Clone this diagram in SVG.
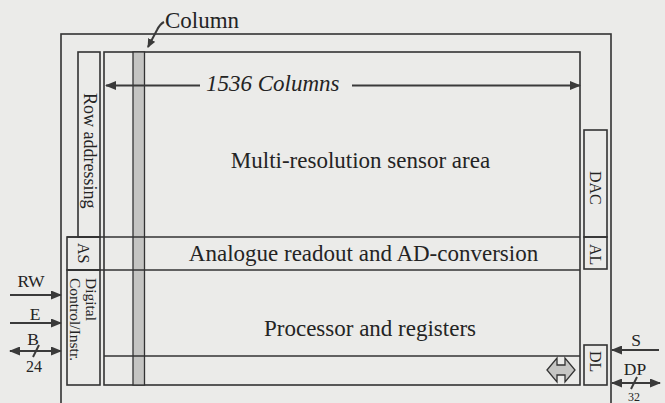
<svg xmlns="http://www.w3.org/2000/svg" width="665" height="403" viewBox="0 0 665 403">
<defs>
<style>
.ln{fill:none;stroke:#333;stroke-width:1.6}
.bx{fill:none;stroke:#333;stroke-width:1.6}
.t{font-family:"Liberation Serif","Times New Roman",serif;fill:#242424}
.big{font-size:23px}
.lab{font-size:17.5px}
.sm{font-size:16px}
.ar{fill:none;stroke:#3a3a3a;stroke-width:2}
</style>
<marker id="ah" markerWidth="11" markerHeight="9" refX="10" refY="4.5" orient="auto-start-reverse" markerUnits="userSpaceOnUse">
<path d="M0,0 L11,4.5 L0,9 z" fill="#3a3a3a"/>
</marker>
<marker id="ahs" markerWidth="9" markerHeight="8" refX="8" refY="4" orient="auto" markerUnits="userSpaceOnUse">
<path d="M0,0 L9,4 L0,8 z" fill="#3a3a3a"/>
</marker>
</defs>
<rect x="0" y="0" width="665" height="403" fill="#ebebe9"/>

<g id="outer-box"><rect class="bx" x="61" y="34" width="550" height="390"/></g>

<g id="sensor-area">
<rect class="bx" x="104" y="52" width="476" height="333"/>
<text class="t big" x="360.5" y="168" text-anchor="middle">Multi-resolution sensor area</text>
</g>

<g id="column-strip">
<rect x="133" y="52" width="11.5" height="333" fill="#c4c4c2" stroke="#333" stroke-width="1.3"/>
</g>

<g id="ad-conversion">
<line class="ln" x1="67" y1="237" x2="580" y2="237"/>
<line class="ln" x1="67" y1="270" x2="580" y2="270"/>
<text class="t big" x="363.5" y="261" text-anchor="middle">Analogue readout and AD-conversion</text>
</g>

<g id="processor">
<text class="t big" x="370" y="336" text-anchor="middle">Processor and registers</text>
<line class="ln" x1="104" y1="356" x2="580" y2="356"/>
<path d="M547,370 L557,358 L557,365 L565,365 L565,358 L575,370 L565,382 L565,375 L557,375 L557,382 Z" fill="#c6c6c4" stroke="#333" stroke-width="1.3"/>
</g>

<g id="row-addressing">
<rect class="bx" x="78" y="52" width="22" height="185"/>
<text class="t" font-size="18" transform="translate(83.5,93) rotate(90)">Row addressing</text>
</g>

<g id="as">
<rect class="bx" x="67" y="237" width="33" height="33"/>
<text class="t sm" transform="translate(78,243) rotate(90)">AS</text>
</g>

<g id="digital-control">
<rect class="bx" x="67" y="270" width="33" height="115"/>
<text class="t" font-size="15.5" transform="translate(85.5,278) rotate(90)">Digital</text>
<text class="t" font-size="15.5" transform="translate(70,278) rotate(90)">Control/Instr.</text>
</g>

<g id="dac">
<rect class="bx" x="584" y="130" width="23" height="107"/>
<text class="t sm" transform="translate(590,171) rotate(90)">DAC</text>
</g>
<g id="al">
<rect class="bx" x="584" y="237" width="23" height="32"/>
<text class="t sm" transform="translate(590,244) rotate(90)">AL</text>
</g>
<g id="dl">
<rect class="bx" x="584" y="345" width="23" height="40"/>
<text class="t sm" transform="translate(590,351) rotate(90)">DL</text>
</g>

<g id="labels">
<text class="t big" x="165" y="28">Column</text>
<text class="t big" x="206" y="91" font-style="italic">1536 Columns</text>
<text class="t lab" x="31" y="287" text-anchor="middle">RW</text>
<text class="t lab" x="35" y="320" text-anchor="middle">E</text>
<text class="t lab" x="33" y="345" text-anchor="middle">B</text>
<text class="t sm" x="34" y="372" text-anchor="middle">24</text>
<text class="t lab" x="636" y="346" text-anchor="middle">S</text>
<text class="t lab" x="635" y="375" text-anchor="middle">DP</text>
<text class="t" font-size="12" x="634" y="401" text-anchor="middle">32</text>
</g>

<g id="connectors">
<path class="ar" d="M164,22 Q160,24 157,30 L148,47" marker-end="url(#ahs)" stroke-width="1.6"/>
<line class="ar" x1="200" y1="85.5" x2="106" y2="85.5" marker-end="url(#ah)" stroke-width="1.6"/>
<line class="ar" x1="352" y1="85.5" x2="580" y2="85.5" marker-end="url(#ah)" stroke-width="1.6"/>
<line class="ar" x1="10" y1="295" x2="61" y2="295" marker-end="url(#ah)"/>
<line class="ar" x1="10" y1="323" x2="61" y2="323" marker-end="url(#ah)"/>
<line class="ar" x1="10" y1="351" x2="61" y2="351" marker-start="url(#ah)" marker-end="url(#ah)"/>
<line class="ar" x1="33" y1="357" x2="39" y2="345" stroke-width="1.3"/>
<line class="ar" x1="659" y1="350" x2="612" y2="350" marker-end="url(#ah)"/>
<line class="ar" x1="612" y1="383" x2="660" y2="383" marker-start="url(#ah)" marker-end="url(#ah)"/>
<line class="ar" x1="631" y1="389" x2="637" y2="377" stroke-width="1.3"/>
</g>
</svg>
